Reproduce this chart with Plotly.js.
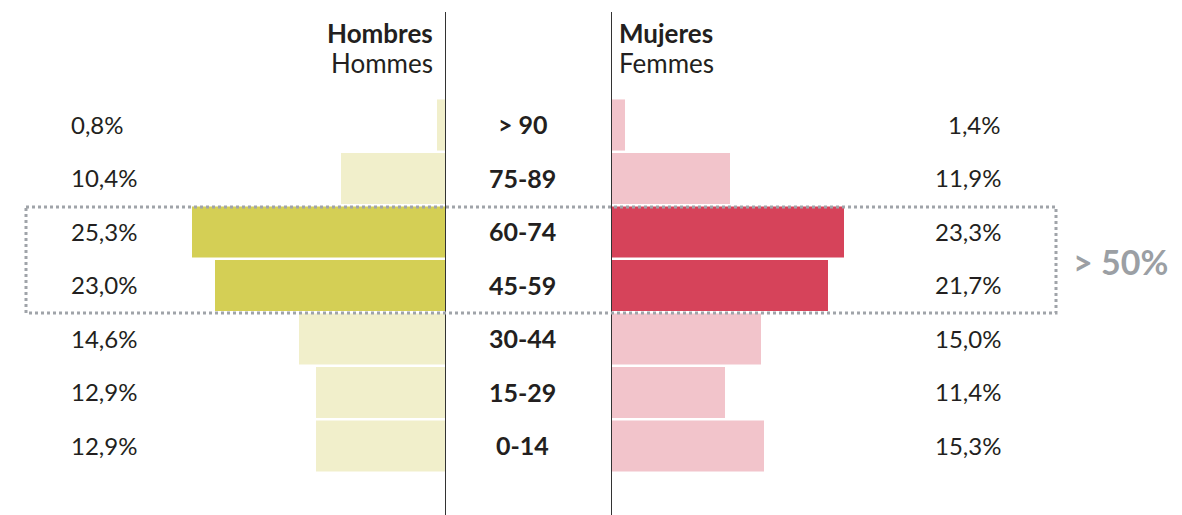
<!DOCTYPE html>
<html>
<head>
<meta charset="utf-8">
<script src="https://cdn.plot.ly/plotly-3.0.1.min.js"></script>
<style>
html,body{margin:0;padding:0;background:#fff;}
#chart{width:1182px;height:515px;}
</style>
</head>
<body>
<div id="chart"></div>
<script>
// Data
const categories = ['0-14', '15-29', '30-44', '45-59', '60-74', '75-89', '> 90'];
const hombres = [12.9, 12.9, 14.6, 23.0, 25.3, 10.4, 0.8];
const mujeres = [15.3, 11.4, 15.0, 21.7, 23.3, 11.9, 1.4];
const highlighted = ['45-59', '60-74'];
const headerLeft = ['Hombres', 'Hommes'];
const headerRight = ['Mujeres', 'Femmes'];
const boxLabel = '> 50%';

const W = 1182, H = 515;
const FONT = 'Lato, "Open Sans", sans-serif';
const TXT = '#231F20';

const fmt = v => v.toFixed(1).replace('.', ',') + '%';
const colL = categories.map(c => highlighted.includes(c) ? '#D4CF55' : '#F1EFCB');
const colR = categories.map(c => highlighted.includes(c) ? '#D6435A' : '#F2C4CB');

const traces = [
  {type: 'bar', orientation: 'h', y: categories, x: hombres, xaxis: 'x', yaxis: 'y',
   marker: {color: colL, line: {width: 0}}, width: 0.955, hoverinfo: 'skip'},
  {type: 'bar', orientation: 'h', y: categories, x: mujeres, xaxis: 'x2', yaxis: 'y',
   marker: {color: colR, line: {width: 0}}, width: 0.955, hoverinfo: 'skip'}
];

const px = v => v / W;
const py = v => 1 - v / H;

const annotations = [];
categories.forEach((c, i) => {
  annotations.push({xref: 'paper', yref: 'y', x: px(69), y: c, xanchor: 'left', yanchor: 'middle', yshift: 1,
    text: fmt(hombres[i]), showarrow: false, font: {family: FONT, size: 24, color: TXT}});
  annotations.push({xref: 'paper', yref: 'y', x: px(1003), y: c, xanchor: 'right', yanchor: 'middle', yshift: 1,
    text: fmt(mujeres[i]), showarrow: false, font: {family: FONT, size: 24, color: TXT}});
  annotations.push({xref: 'paper', yref: 'y', x: px(522.5), y: c, xanchor: 'center', yanchor: 'middle', yshift: 1,
    text: '<b>' + c + '</b>', showarrow: false, font: {family: FONT, size: 25, color: TXT}});
});
annotations.push({xref: 'paper', yref: 'paper', x: px(435), y: py(33), xanchor: 'right', yanchor: 'middle',
  text: '<b>' + headerLeft[0] + '</b>', showarrow: false, font: {family: FONT, size: 26, color: TXT}});
annotations.push({xref: 'paper', yref: 'paper', x: px(435), y: py(63), xanchor: 'right', yanchor: 'middle',
  text: headerLeft[1], showarrow: false, font: {family: FONT, size: 26, color: TXT}});
annotations.push({xref: 'paper', yref: 'paper', x: px(617), y: py(33), xanchor: 'left', yanchor: 'middle',
  text: '<b>' + headerRight[0] + '</b>', showarrow: false, font: {family: FONT, size: 26, color: TXT}});
annotations.push({xref: 'paper', yref: 'paper', x: px(617), y: py(63), xanchor: 'left', yanchor: 'middle',
  text: headerRight[1], showarrow: false, font: {family: FONT, size: 26, color: TXT}});
annotations.push({xref: 'paper', yref: 'paper', x: px(1071), y: py(261), xanchor: 'left', yanchor: 'middle',
  text: '<b>' + boxLabel + '</b>', showarrow: false, font: {family: FONT, size: 34, color: '#9B9FA4'}});

const shapes = [
  {type: 'line', xref: 'paper', yref: 'paper', x0: px(445.5), x1: px(445.5), y0: py(12), y1: 0,
   line: {color: '#333333', width: 1}},
  {type: 'line', xref: 'paper', yref: 'paper', x0: px(611.5), x1: px(611.5), y0: py(12), y1: 0,
   line: {color: '#333333', width: 1}},
  {type: 'rect', xref: 'paper', yref: 'paper', x0: px(26), x1: px(1056), y0: py(207), y1: py(313),
   line: {color: '#A0A4A9', width: 3, dash: 'dot'}, fillcolor: 'rgba(0,0,0,0)', layer: 'above'}
];

const rowPx = 53.5;
const yBottom = -(H - 446) / rowPx;
const yTop = yBottom + H / rowPx;

const layout = {
  width: W, height: H,
  margin: {l: 0, r: 0, t: 0, b: 0},
  paper_bgcolor: '#fff', plot_bgcolor: 'rgba(0,0,0,0)',
  showlegend: false,
  barmode: 'overlay',
  xaxis: {domain: [0, 445 / W], range: [44.5, 0], visible: false, fixedrange: true},
  xaxis2: {domain: [611 / W, 1], range: [0, (W - 611) / 10], visible: false, fixedrange: true, anchor: 'y'},
  yaxis: {type: 'category', categoryorder: 'array', categoryarray: categories,
          range: [yBottom, yTop], visible: false, fixedrange: true},
  annotations: annotations,
  shapes: shapes
};

Plotly.newPlot('chart', traces, layout, {displayModeBar: false, staticPlot: true});
</script>
</body>
</html>
